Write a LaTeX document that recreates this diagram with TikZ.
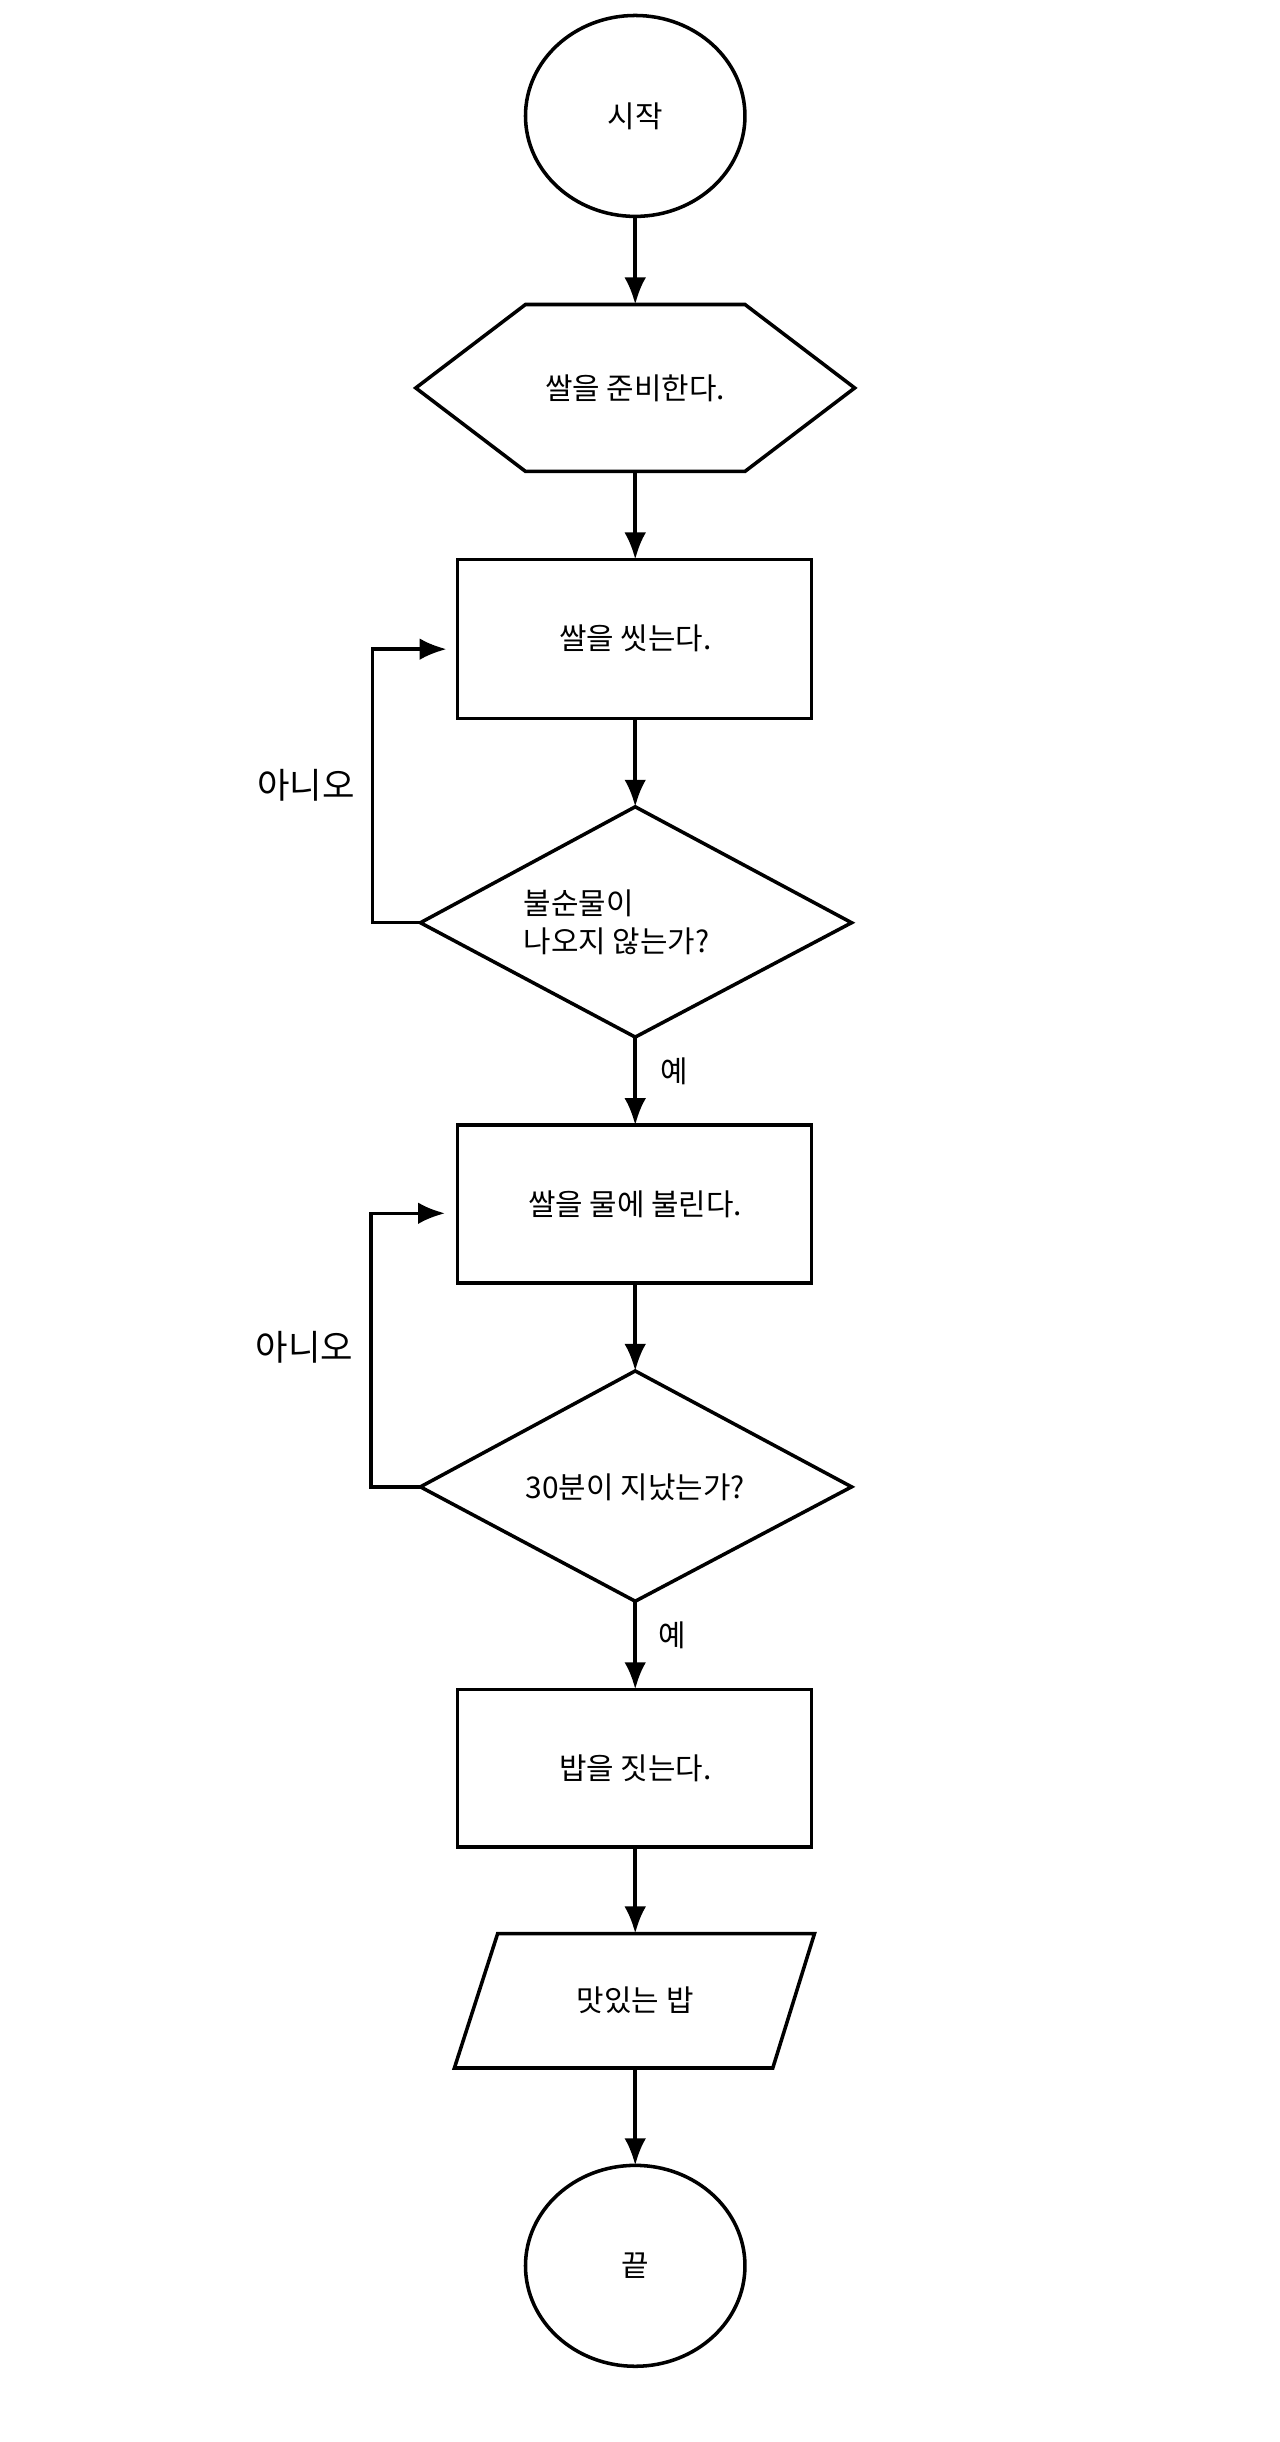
\documentclass[tikz,border=0pt]{standalone}
\usepackage{fontspec}
\setmainfont{Noto Sans CJK KR}
\usetikzlibrary{arrows.meta}
\tikzset{
	shape line/.style={line width=1.3pt, line join=miter},
	flow/.style={line width=1.3pt, -{Latex[length=3.5mm,width=2.8mm]}},
	label text/.style={font=\fontsize{11}{14}\selectfont},
	side text/.style={font=\fontsize{13}{16}\selectfont}
}
\begin{document}
\begin{tikzpicture}[x=0.02cm, y=-0.02cm]
	% page
	\useasboundingbox (0,0) rectangle (828,1580);
	% start and end
	\draw[shape line] (411,75) ellipse (71 and 65);
	\node[label text] (start) at (411,75) {시작};
	\coordinate (startS) at (411,140);
	\draw[shape line] (411,1466) ellipse (71 and 65);
	\node[label text] (stop) at (411,1466) {끝};
	\coordinate (stopN) at (411,1401);
	% preparation
	\draw[shape line] (269,251) -- (340,197) -- (482,197) -- (553,251) -- (482,305) -- (340,305) -- cycle;
	\node[label text] (prep) at (411,251) {쌀을 준비한다.};
	\coordinate (prepN) at (411,197);
	\coordinate (prepS) at (411,305);
	% processes
	\draw[shape line] (296,362) rectangle (525,465);
	\node[label text] (wash) at (411,413) {쌀을 씻는다.};
	\coordinate (washN) at (411,362);
	\coordinate (washS) at (411,465);
	\coordinate (washW) at (289,420);
	\draw[shape line] (296,728) rectangle (525,830);
	\node[label text] (soak) at (411,779) {쌀을 물에 불린다.};
	\coordinate (soakN) at (411,728);
	\coordinate (soakS) at (411,830);
	\coordinate (soakW) at (288,785);
	\draw[shape line] (296,1093) rectangle (525,1195);
	\node[label text] (cook) at (411,1144) {밥을 짓는다.};
	\coordinate (cookN) at (411,1093);
	\coordinate (cookS) at (411,1195);
	% decisions
	\draw[shape line] (411,522) -- (551,597) -- (411,671) -- (272,597) -- cycle;
	\node[label text, align=left] (clean) at (399,597) {불순물이\\나오지 않는가?};
	\coordinate (cleanN) at (411,522);
	\coordinate (cleanS) at (411,671);
	\coordinate (cleanW) at (272,597);
	\draw[shape line] (411,887) -- (551,962) -- (411,1036) -- (272,962) -- cycle;
	\node[label text] (timer) at (411,962) {30분이 지났는가?};
	\coordinate (timerN) at (411,887);
	\coordinate (timerS) at (411,1036);
	\coordinate (timerW) at (272,962);
	% output
	\draw[shape line] (322,1251) -- (527,1251) -- (500,1338) -- (294,1338) -- cycle;
	\node[label text] (rice) at (411,1294) {맛있는 밥};
	\coordinate (riceN) at (411,1251);
	\coordinate (riceS) at (411,1338);
	% connectors
	\draw[flow] (startS) -- (prepN);
	\draw[flow] (prepS) -- (washN);
	\draw[flow] (washS) -- (cleanN);
	\draw[flow] (cleanS) -- (soakN);
	\draw[flow] (soakS) -- (timerN);
	\draw[flow] (timerS) -- (cookN);
	\draw[flow] (cookS) -- (riceN);
	\draw[flow] (riceS) -- (stopN);
	\draw[flow] (cleanW) -- (241,597) |- (washW);
	\draw[flow] (timerW) -- (240,962) |- (soakW);
	% branch labels
	\node[side text] (no1) at (198,508) {아니오};
	\node[side text] (no2) at (197,872) {아니오};
	\node[label text] (yes1) at (436,693) {예};
	\node[label text] (yes2) at (435,1058) {예};
\end{tikzpicture}
\end{document}
